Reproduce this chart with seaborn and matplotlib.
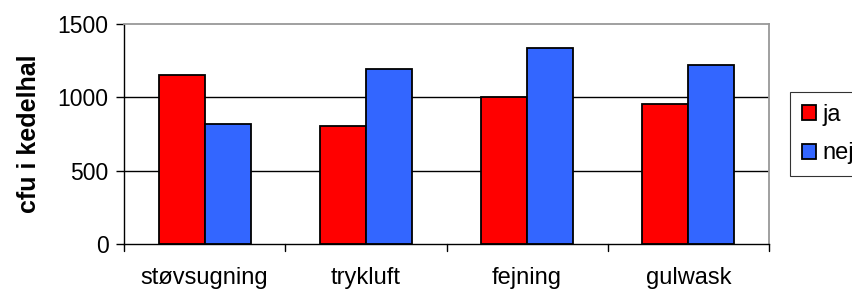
import pandas as pd
import seaborn as sns
import matplotlib.pyplot as plt

# Values
categories = ["støvsugning", "trykluft", "fejning", "gulwask"]
ja_values = [1151, 804, 1005, 953]
nej_values = [820, 1192, 1338, 1219]
series = ["ja", "nej"]
y_ticks = [0, 500, 1000, 1500]

df = pd.DataFrame({
    "kategori": categories * 2,
    "serie": ["ja"] * len(categories) + ["nej"] * len(categories),
    "cfu": ja_values + nej_values,
})

sns.set_style("white")
plt.rcParams['font.family'] = ['Liberation Sans', 'DejaVu Sans']
plt.rcParams['text.color'] = 'black'
plt.rcParams['xtick.color'] = 'black'
plt.rcParams['ytick.color'] = 'black'
plt.rcParams['axes.labelcolor'] = 'black'

fig = plt.figure(figsize=(8.53, 2.93), dpi=100)
ax = fig.add_axes([0.1454, 0.168, 0.7561, 0.749])

sns.barplot(data=df, x="kategori", y="cfu", hue="serie", hue_order=series,
            palette={"ja": "#FF0000", "nej": "#3366FF"}, width=0.57,
            saturation=1, edgecolor="black", linewidth=1.3, ax=ax, legend=True)

ax.set_ylim(0, 1500)
ax.set_xlim(-0.5, len(categories) - 0.5)
ax.set_yticks(y_ticks)
ax.set_yticklabels([str(v) for v in y_ticks], fontsize=16.5)
ax.set_xlabel("")
ax.set_ylabel("cfu i kedelhal", fontsize=18, fontweight="bold", labelpad=12)
ax.tick_params(axis="x", labelsize=17, length=0, pad=17)
ax.tick_params(axis="y", left=True, length=6, width=1, color="black", pad=5)

# horizontal gridlines at 500 and 1000
for v in y_ticks[1:-1]:
    ax.axhline(v, color="black", linewidth=1, zorder=0)

# category separator ticks below x-axis
for i in range(len(categories) + 1):
    ax.plot([i - 0.5, i - 0.5], [0, -0.035], color="black", linewidth=1,
            transform=ax.get_xaxis_transform(), clip_on=False)

for s in ["left", "bottom"]:
    ax.spines[s].set_color("black")
    ax.spines[s].set_linewidth(1)
for s in ["top", "right"]:
    ax.spines[s].set_color("#999999")
    ax.spines[s].set_linewidth(1.3)

leg = ax.legend(loc="upper left", bbox_to_anchor=(0.926, 0.686),
                bbox_transform=fig.transFigure, fontsize=17, frameon=True,
                fancybox=False, edgecolor="black", handlelength=0.6,
                handleheight=0.6, handletextpad=0.3, borderpad=0.5,
                labelspacing=0.7, borderaxespad=0)
leg.get_frame().set_linewidth(0.8)

fig.savefig("out.png", dpi=100)
